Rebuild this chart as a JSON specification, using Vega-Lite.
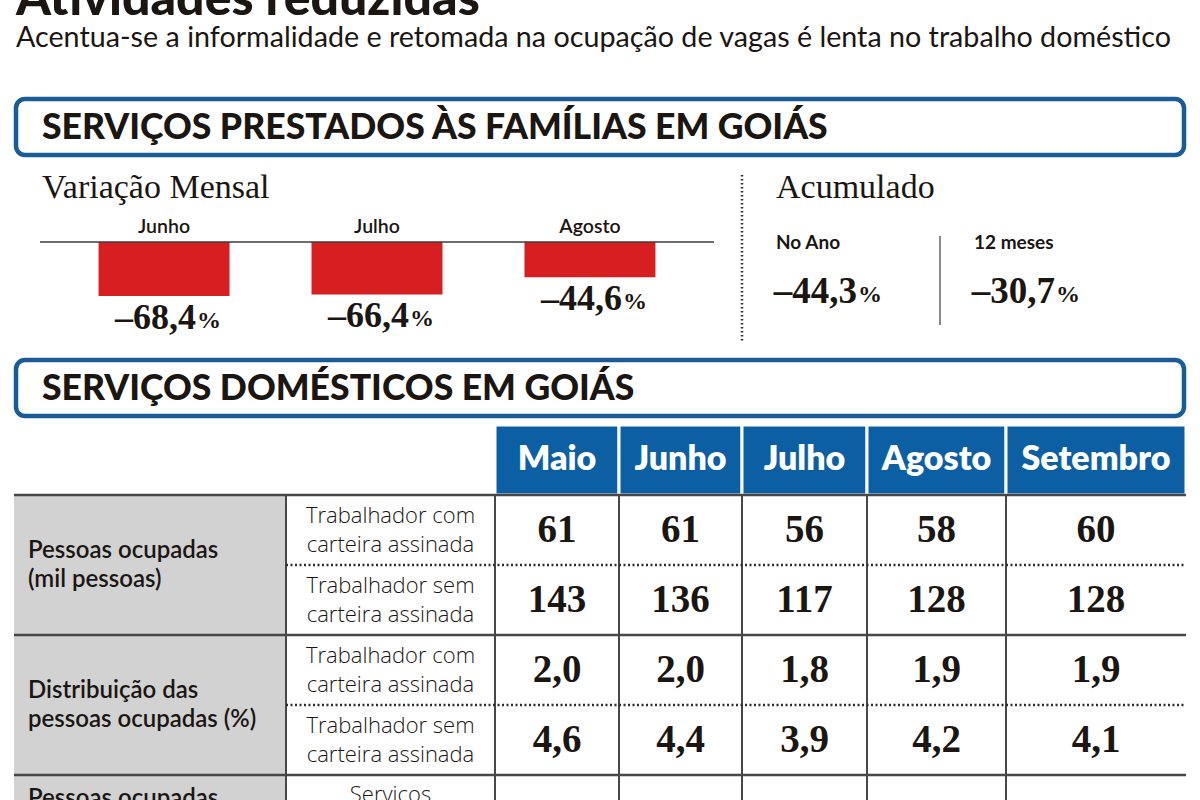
{
  "$schema": "https://vega.github.io/schema/vega-lite/v6.json",
  "width": 1200,
  "height": 800,
  "autosize": {"type": "none"},
  "padding": 0,
  "background": "#ffffff",
  "config": {
    "view": {"stroke": null},
    "locale": {"number": {"decimal": ",", "thousands": ".", "grouping": [3], "currency": ["R$", ""], "minus": "–"}},
    "text": {"color": "#1b1612"}
  },
  "datasets": {
    "cabecalho": [
      {"nivel": "titulo", "texto": "Atividades reduzidas"},
      {"nivel": "subtitulo", "texto": "Acentua-se a informalidade e retomada na ocupação de vagas é lenta no trabalho doméstico"}
    ],
    "secoes": [
      {"secao": "SERVIÇOS PRESTADOS ÀS FAMÍLIAS EM GOIÁS"},
      {"secao": "SERVIÇOS DOMÉSTICOS EM GOIÁS"}
    ],
    "paineis": [{"painel": "Variação Mensal"}, {"painel": "Acumulado"}],
    "variacao": [
      {"mes": "Junho", "variacao": -68.4},
      {"mes": "Julho", "variacao": -66.4},
      {"mes": "Agosto", "variacao": -44.6}
    ],
    "acumulado": [
      {"periodo": "No Ano", "valor": -44.3},
      {"periodo": "12 meses", "valor": -30.7}
    ],
    "meses": [{"mes": "Maio"}, {"mes": "Junho"}, {"mes": "Julho"}, {"mes": "Agosto"}, {"mes": "Setembro"}],
    "linhas": [
      {"linha": 1, "grupo": "Pessoas ocupadas\n(mil pessoas)", "categoria": "Trabalhador com\ncarteira assinada"},
      {"linha": 2, "grupo": "Pessoas ocupadas\n(mil pessoas)", "categoria": "Trabalhador sem\ncarteira assinada"},
      {"linha": 3, "grupo": "Distribuição das\npessoas ocupadas (%)", "categoria": "Trabalhador com\ncarteira assinada"},
      {"linha": 4, "grupo": "Distribuição das\npessoas ocupadas (%)", "categoria": "Trabalhador sem\ncarteira assinada"},
      {"linha": 5, "grupo": "Pessoas ocupadas", "categoria": "Serviços"}
    ],
    "valores": [
      {"linha": 1, "mes": "Maio", "valor": 61}, {"linha": 1, "mes": "Junho", "valor": 61}, {"linha": 1, "mes": "Julho", "valor": 56}, {"linha": 1, "mes": "Agosto", "valor": 58}, {"linha": 1, "mes": "Setembro", "valor": 60},
      {"linha": 2, "mes": "Maio", "valor": 143}, {"linha": 2, "mes": "Junho", "valor": 136}, {"linha": 2, "mes": "Julho", "valor": 117}, {"linha": 2, "mes": "Agosto", "valor": 128}, {"linha": 2, "mes": "Setembro", "valor": 128},
      {"linha": 3, "mes": "Maio", "valor": 2.0}, {"linha": 3, "mes": "Junho", "valor": 2.0}, {"linha": 3, "mes": "Julho", "valor": 1.8}, {"linha": 3, "mes": "Agosto", "valor": 1.9}, {"linha": 3, "mes": "Setembro", "valor": 1.9},
      {"linha": 4, "mes": "Maio", "valor": 4.6}, {"linha": 4, "mes": "Junho", "valor": 4.4}, {"linha": 4, "mes": "Julho", "valor": 3.9}, {"linha": 4, "mes": "Agosto", "valor": 4.2}, {"linha": 4, "mes": "Setembro", "valor": 4.1}
    ]
  },
  "resolve": {"scale": {"x": "independent", "y": "independent"}},
  "layer": [
    {
      "data": {"name": "cabecalho"},
      "encoding": {
        "x": {"field": "nivel", "type": "nominal", "scale": {"type": "point", "domain": ["titulo", "subtitulo"], "range": [16, 16], "padding": 0}, "axis": null},
        "y": {"field": "nivel", "type": "nominal", "scale": {"type": "point", "domain": ["titulo", "subtitulo"], "range": [15, 47], "padding": 0}, "axis": null},
        "text": {"field": "texto", "type": "nominal"}
      },
      "layer": [
        {"transform": [{"filter": "datum.nivel === 'titulo'"}], "mark": {"type": "text", "align": "left", "baseline": "alphabetic", "font": "Lato", "fontWeight": 900, "fontSize": 50}},
        {"transform": [{"filter": "datum.nivel === 'subtitulo'"}], "mark": {"type": "text", "align": "left", "baseline": "alphabetic", "font": "Lato", "fontSize": 28.7}}
      ]
    },
    {
      "data": {"name": "secoes"},
      "encoding": {
        "y": {"field": "secao", "type": "nominal", "sort": null, "scale": {"type": "band", "domain": ["SERVIÇOS PRESTADOS ÀS FAMÍLIAS EM GOIÁS", "SERVIÇOS DOMÉSTICOS EM GOIÁS"], "range": [99, 416], "paddingInner": 0.785, "paddingOuter": 0}, "axis": null}
      },
      "layer": [
        {
          "mark": {"type": "rect", "fill": "#ffffff", "stroke": "#1a5b98", "strokeWidth": 4.5, "cornerRadius": 9},
          "encoding": {"x": {"datum": "faixa", "type": "nominal", "scale": {"type": "band", "domain": ["faixa"], "range": [16, 1184], "padding": 0}, "axis": null}}
        },
        {
          "mark": {"type": "text", "align": "left", "baseline": "middle", "dx": 26, "dy": 1, "font": "Lato", "fontWeight": 900, "fontSize": 35.6},
          "encoding": {
            "x": {"datum": "faixa", "type": "nominal", "bandPosition": 0, "scale": {"type": "band", "domain": ["faixa"], "range": [16, 1184], "padding": 0}, "axis": null},
            "text": {"field": "secao", "type": "nominal"}
          }
        }
      ]
    },
    {
      "data": {"name": "variacao"},
      "resolve": {"scale": {"x": "independent"}},
      "layer": [
        {
          "encoding": {
            "x": {"field": "mes", "type": "nominal", "sort": ["Junho", "Julho", "Agosto"], "scale": {"type": "band", "domain": ["Junho", "Julho", "Agosto"], "range": [40, 714], "paddingInner": 0.385, "paddingOuter": 0.275}, "axis": null},
            "y": {"field": "variacao", "type": "quantitative", "scale": {"domain": [-100, 0], "range": [321, 242], "nice": false, "zero": false}, "axis": null}
          },
          "layer": [
            {"mark": {"type": "bar", "color": "#d71f22"}, "encoding": {"y2": {"datum": 0}}},
            {"mark": {"type": "text", "align": "right", "baseline": "middle", "dx": 32, "dy": 22, "font": "Liberation Serif", "fontWeight": "bold", "fontSize": 36}, "encoding": {"text": {"field": "variacao", "type": "quantitative", "format": ".1f"}}},
            {"mark": {"type": "text", "align": "left", "baseline": "middle", "dx": 33, "dy": 25, "font": "Liberation Serif", "fontWeight": "bold", "fontSize": 24, "text": "%"}},
            {
              "mark": {"type": "text", "align": "center", "baseline": "alphabetic", "dy": -9, "font": "Lato", "fontWeight": 600, "fontSize": 19.5},
              "encoding": {
                "y": {"datum": 0, "type": "quantitative", "scale": {"domain": [-100, 0], "range": [321, 242], "nice": false, "zero": false}, "axis": null},
                "text": {"field": "mes", "type": "nominal"}
              }
            }
          ]
        },
        {
          "transform": [{"aggregate": [{"op": "count", "as": "n"}]}],
          "mark": {"type": "rule", "stroke": "#3d3d3d", "strokeWidth": 1.3},
          "encoding": {
            "x": {"datum": "inicio", "type": "nominal", "scale": {"type": "point", "domain": ["inicio", "fim"], "range": [40, 714], "padding": 0}, "axis": null},
            "x2": {"datum": "fim"},
            "y": {"datum": 0, "type": "quantitative", "scale": {"domain": [-100, 0], "range": [321, 242], "nice": false, "zero": false}, "axis": null}
          }
        }
      ]
    },
    {
      "data": {"name": "acumulado"},
      "encoding": {
        "x": {"field": "periodo", "type": "nominal", "bandPosition": 0, "sort": null, "scale": {"type": "band", "domain": ["No Ano", "12 meses"], "range": [742, 1138], "padding": 0}, "axis": null}
      },
      "layer": [
        {
          "mark": {"type": "text", "align": "left", "baseline": "middle", "dx": 34, "font": "Lato", "fontWeight": 700, "fontSize": 19},
          "encoding": {
            "y": {"datum": 0.41, "type": "quantitative", "scale": {"domain": [0, 1], "range": [175, 342], "nice": false, "zero": false}, "axis": null},
            "text": {"field": "periodo", "type": "nominal"}
          }
        },
        {
          "mark": {"type": "text", "align": "right", "baseline": "middle", "dx": 115, "font": "Liberation Serif", "fontWeight": "bold", "fontSize": 37},
          "encoding": {
            "y": {"datum": 0.70, "type": "quantitative", "scale": {"domain": [0, 1], "range": [175, 342], "nice": false, "zero": false}, "axis": null},
            "text": {"field": "valor", "type": "quantitative", "format": ".1f"}
          }
        },
        {
          "mark": {"type": "text", "align": "left", "baseline": "middle", "dx": 116, "dy": 3, "font": "Liberation Serif", "fontWeight": "bold", "fontSize": 24, "text": "%"},
          "encoding": {
            "y": {"datum": 0.70, "type": "quantitative", "scale": {"domain": [0, 1], "range": [175, 342], "nice": false, "zero": false}, "axis": null}
          }
        },
        {
          "transform": [{"filter": "datum.periodo === '12 meses'"}],
          "mark": {"type": "rule", "stroke": "#3d3d3d", "strokeWidth": 1.2},
          "encoding": {
            "y": {"datum": 0.365, "type": "quantitative", "scale": {"domain": [0, 1], "range": [175, 342], "nice": false, "zero": false}, "axis": null},
            "y2": {"datum": 0.898}
          }
        }
      ]
    },
    {
      "data": {"name": "paineis"},
      "encoding": {
        "x": {"field": "painel", "type": "nominal", "bandPosition": 0, "sort": null, "scale": {"type": "band", "domain": ["Variação Mensal", "Acumulado"], "range": [8, 1476], "padding": 0}, "axis": null},
        "y": {"datum": 0.08, "type": "quantitative", "scale": {"domain": [0, 1], "range": [175, 342], "nice": false, "zero": false}, "axis": null}
      },
      "layer": [
        {"mark": {"type": "text", "align": "left", "baseline": "middle", "dx": 34, "font": "Liberation Serif", "fontSize": 34}, "encoding": {"text": {"field": "painel", "type": "nominal"}}},
        {
          "transform": [{"filter": "datum.painel === 'Acumulado'"}],
          "mark": {"type": "rule", "stroke": "#2e2e2e", "strokeWidth": 2.5, "strokeDash": [1.5, 2.5]},
          "encoding": {
            "y": {"datum": 0, "type": "quantitative", "scale": {"domain": [0, 1], "range": [175, 342], "nice": false, "zero": false}, "axis": null},
            "y2": {"datum": 1}
          }
        }
      ]
    },
    {
      "resolve": {"scale": {"x": "independent"}},
      "layer": [
        {
          "data": {"name": "linhas"},
          "encoding": {
            "x": {"datum": "grupo", "type": "nominal", "bandPosition": 0, "scale": {"type": "band", "domain": ["grupo"], "range": [14, 286], "padding": 0}, "axis": null}
          },
          "layer": [
            {
              "mark": {"type": "rect", "fill": "#d2d2d2"},
              "encoding": {
                "x": {"datum": "grupo", "type": "nominal", "scale": {"type": "band", "domain": ["grupo"], "range": [14, 286], "padding": 0}, "axis": null},
                "y": {"field": "linha", "type": "ordinal", "scale": {"type": "band", "domain": [0, 1, 2, 3, 4, 5, 6], "range": [425, 915], "padding": 0}, "axis": null}
              }
            },
            {
              "transform": [{"filter": "datum.linha === 2 || datum.linha === 4"}],
              "mark": {"type": "text", "align": "left", "baseline": "middle", "dx": 14, "dy": -14.5, "font": "Lato", "fontWeight": 600, "fontSize": 24, "lineHeight": 29, "lineBreak": "\n"},
              "encoding": {
                "y": {"field": "linha", "type": "ordinal", "bandPosition": 0, "scale": {"type": "band", "domain": [0, 1, 2, 3, 4, 5, 6], "range": [425, 915], "padding": 0}, "axis": null},
                "text": {"field": "grupo", "type": "nominal"}
              }
            },
            {
              "transform": [{"filter": "datum.linha === 5"}],
              "mark": {"type": "text", "align": "left", "baseline": "top", "dx": 14, "font": "Lato", "fontWeight": 600, "fontSize": 24, "lineHeight": 29, "lineBreak": "\n"},
              "encoding": {
                "y": {"field": "linha", "type": "ordinal", "bandPosition": 0.17, "scale": {"type": "band", "domain": [0, 1, 2, 3, 4, 5, 6], "range": [425, 915], "padding": 0}, "axis": null},
                "text": {"field": "grupo", "type": "nominal"}
              }
            }
          ]
        },
        {
          "data": {"name": "linhas"},
          "encoding": {
            "x": {"datum": "categoria", "type": "nominal", "scale": {"type": "band", "domain": ["categoria"], "range": [286, 495], "padding": 0}, "axis": null}
          },
          "layer": [
            {
              "transform": [{"filter": "datum.linha <= 4"}],
              "mark": {"type": "text", "align": "center", "baseline": "middle", "dy": -14.5, "font": "Open Sans", "fontWeight": 300, "fontSize": 22, "lineHeight": 29, "lineBreak": "\n"},
              "encoding": {
                "y": {"field": "linha", "type": "ordinal", "scale": {"type": "band", "domain": [0, 1, 2, 3, 4, 5, 6], "range": [425, 915], "padding": 0}, "axis": null},
                "text": {"field": "categoria", "type": "nominal"}
              }
            },
            {
              "transform": [{"filter": "datum.linha === 5"}],
              "mark": {"type": "text", "align": "center", "baseline": "top", "font": "Open Sans", "fontWeight": 300, "fontSize": 22, "lineHeight": 29, "lineBreak": "\n"},
              "encoding": {
                "y": {"field": "linha", "type": "ordinal", "bandPosition": 0.14, "scale": {"type": "band", "domain": [0, 1, 2, 3, 4, 5, 6], "range": [425, 915], "padding": 0}, "axis": null},
                "text": {"field": "categoria", "type": "nominal"}
              }
            },
            {
              "transform": [{"filter": "datum.linha === 1"}],
              "mark": {"type": "rule", "stroke": "#474747", "strokeWidth": 2},
              "encoding": {
                "x": {"datum": "categoria", "type": "nominal", "bandPosition": 0, "scale": {"type": "band", "domain": ["categoria"], "range": [286, 495], "padding": 0}, "axis": null},
                "y": {"datum": 1, "type": "ordinal", "bandPosition": 0, "scale": {"type": "band", "domain": [0, 1, 2, 3, 4, 5, 6], "range": [425, 915], "padding": 0}, "axis": null},
                "y2": {"datum": 6}
              }
            }
          ]
        },
        {
          "encoding": {"x": {"field": "mes", "type": "nominal", "scale": {"type": "band", "domain": ["Maio"], "range": [495, 619], "padding": 0}, "axis": null}},
          "layer": [
            {"data": {"name": "meses"}, "transform": [{"filter": "datum.mes === 'Maio'"}], "mark": {"type": "rect", "fill": "#0d5fa4", "stroke": "#ffffff", "strokeWidth": 3}, "encoding": {"y": {"datum": 0, "type": "ordinal", "scale": {"type": "band", "domain": [0, 1, 2, 3, 4, 5, 6], "range": [425, 915], "padding": 0}, "axis": null}}},
            {"data": {"name": "meses"}, "transform": [{"filter": "datum.mes === 'Maio'"}], "mark": {"type": "text", "color": "#ffffff", "baseline": "middle", "font": "Lato", "fontWeight": 800, "fontSize": 34}, "encoding": {"y": {"datum": 0, "type": "ordinal", "scale": {"type": "band", "domain": [0, 1, 2, 3, 4, 5, 6], "range": [425, 915], "padding": 0}, "axis": null}, "text": {"field": "mes", "type": "nominal"}}},
            {"data": {"name": "valores"}, "transform": [{"filter": "datum.mes === 'Maio' && datum.linha <= 2"}], "mark": {"type": "text", "baseline": "middle", "font": "Liberation Serif", "fontWeight": "bold", "fontSize": 39}, "encoding": {"y": {"field": "linha", "type": "ordinal", "scale": {"type": "band", "domain": [0, 1, 2, 3, 4, 5, 6], "range": [425, 915], "padding": 0}, "axis": null}, "text": {"field": "valor", "type": "quantitative", "format": "d"}}},
            {"data": {"name": "valores"}, "transform": [{"filter": "datum.mes === 'Maio' && datum.linha >= 3"}], "mark": {"type": "text", "baseline": "middle", "font": "Liberation Serif", "fontWeight": "bold", "fontSize": 39}, "encoding": {"y": {"field": "linha", "type": "ordinal", "scale": {"type": "band", "domain": [0, 1, 2, 3, 4, 5, 6], "range": [425, 915], "padding": 0}, "axis": null}, "text": {"field": "valor", "type": "quantitative", "format": ".1f"}}},
            {"data": {"name": "meses"}, "transform": [{"filter": "datum.mes === 'Maio'"}], "mark": {"type": "rule", "stroke": "#474747", "strokeWidth": 2}, "encoding": {"x": {"field": "mes", "type": "nominal", "bandPosition": 0, "scale": {"type": "band", "domain": ["Maio"], "range": [495, 619], "padding": 0}, "axis": null}, "y": {"datum": 1, "type": "ordinal", "bandPosition": 0, "scale": {"type": "band", "domain": [0, 1, 2, 3, 4, 5, 6], "range": [425, 915], "padding": 0}, "axis": null}, "y2": {"datum": 6}}}
          ]
        },
        {
          "encoding": {"x": {"field": "mes", "type": "nominal", "scale": {"type": "band", "domain": ["Junho"], "range": [619, 742], "padding": 0}, "axis": null}},
          "layer": [
            {"data": {"name": "meses"}, "transform": [{"filter": "datum.mes === 'Junho'"}], "mark": {"type": "rect", "fill": "#0d5fa4", "stroke": "#ffffff", "strokeWidth": 3}, "encoding": {"y": {"datum": 0, "type": "ordinal", "scale": {"type": "band", "domain": [0, 1, 2, 3, 4, 5, 6], "range": [425, 915], "padding": 0}, "axis": null}}},
            {"data": {"name": "meses"}, "transform": [{"filter": "datum.mes === 'Junho'"}], "mark": {"type": "text", "color": "#ffffff", "baseline": "middle", "font": "Lato", "fontWeight": 800, "fontSize": 34}, "encoding": {"y": {"datum": 0, "type": "ordinal", "scale": {"type": "band", "domain": [0, 1, 2, 3, 4, 5, 6], "range": [425, 915], "padding": 0}, "axis": null}, "text": {"field": "mes", "type": "nominal"}}},
            {"data": {"name": "valores"}, "transform": [{"filter": "datum.mes === 'Junho' && datum.linha <= 2"}], "mark": {"type": "text", "baseline": "middle", "font": "Liberation Serif", "fontWeight": "bold", "fontSize": 39}, "encoding": {"y": {"field": "linha", "type": "ordinal", "scale": {"type": "band", "domain": [0, 1, 2, 3, 4, 5, 6], "range": [425, 915], "padding": 0}, "axis": null}, "text": {"field": "valor", "type": "quantitative", "format": "d"}}},
            {"data": {"name": "valores"}, "transform": [{"filter": "datum.mes === 'Junho' && datum.linha >= 3"}], "mark": {"type": "text", "baseline": "middle", "font": "Liberation Serif", "fontWeight": "bold", "fontSize": 39}, "encoding": {"y": {"field": "linha", "type": "ordinal", "scale": {"type": "band", "domain": [0, 1, 2, 3, 4, 5, 6], "range": [425, 915], "padding": 0}, "axis": null}, "text": {"field": "valor", "type": "quantitative", "format": ".1f"}}},
            {"data": {"name": "meses"}, "transform": [{"filter": "datum.mes === 'Junho'"}], "mark": {"type": "rule", "stroke": "#474747", "strokeWidth": 2}, "encoding": {"x": {"field": "mes", "type": "nominal", "bandPosition": 0, "scale": {"type": "band", "domain": ["Junho"], "range": [619, 742], "padding": 0}, "axis": null}, "y": {"datum": 1, "type": "ordinal", "bandPosition": 0, "scale": {"type": "band", "domain": [0, 1, 2, 3, 4, 5, 6], "range": [425, 915], "padding": 0}, "axis": null}, "y2": {"datum": 6}}}
          ]
        },
        {
          "encoding": {"x": {"field": "mes", "type": "nominal", "scale": {"type": "band", "domain": ["Julho"], "range": [742, 867], "padding": 0}, "axis": null}},
          "layer": [
            {"data": {"name": "meses"}, "transform": [{"filter": "datum.mes === 'Julho'"}], "mark": {"type": "rect", "fill": "#0d5fa4", "stroke": "#ffffff", "strokeWidth": 3}, "encoding": {"y": {"datum": 0, "type": "ordinal", "scale": {"type": "band", "domain": [0, 1, 2, 3, 4, 5, 6], "range": [425, 915], "padding": 0}, "axis": null}}},
            {"data": {"name": "meses"}, "transform": [{"filter": "datum.mes === 'Julho'"}], "mark": {"type": "text", "color": "#ffffff", "baseline": "middle", "font": "Lato", "fontWeight": 800, "fontSize": 34}, "encoding": {"y": {"datum": 0, "type": "ordinal", "scale": {"type": "band", "domain": [0, 1, 2, 3, 4, 5, 6], "range": [425, 915], "padding": 0}, "axis": null}, "text": {"field": "mes", "type": "nominal"}}},
            {"data": {"name": "valores"}, "transform": [{"filter": "datum.mes === 'Julho' && datum.linha <= 2"}], "mark": {"type": "text", "baseline": "middle", "font": "Liberation Serif", "fontWeight": "bold", "fontSize": 39}, "encoding": {"y": {"field": "linha", "type": "ordinal", "scale": {"type": "band", "domain": [0, 1, 2, 3, 4, 5, 6], "range": [425, 915], "padding": 0}, "axis": null}, "text": {"field": "valor", "type": "quantitative", "format": "d"}}},
            {"data": {"name": "valores"}, "transform": [{"filter": "datum.mes === 'Julho' && datum.linha >= 3"}], "mark": {"type": "text", "baseline": "middle", "font": "Liberation Serif", "fontWeight": "bold", "fontSize": 39}, "encoding": {"y": {"field": "linha", "type": "ordinal", "scale": {"type": "band", "domain": [0, 1, 2, 3, 4, 5, 6], "range": [425, 915], "padding": 0}, "axis": null}, "text": {"field": "valor", "type": "quantitative", "format": ".1f"}}},
            {"data": {"name": "meses"}, "transform": [{"filter": "datum.mes === 'Julho'"}], "mark": {"type": "rule", "stroke": "#474747", "strokeWidth": 2}, "encoding": {"x": {"field": "mes", "type": "nominal", "bandPosition": 0, "scale": {"type": "band", "domain": ["Julho"], "range": [742, 867], "padding": 0}, "axis": null}, "y": {"datum": 1, "type": "ordinal", "bandPosition": 0, "scale": {"type": "band", "domain": [0, 1, 2, 3, 4, 5, 6], "range": [425, 915], "padding": 0}, "axis": null}, "y2": {"datum": 6}}}
          ]
        },
        {
          "encoding": {"x": {"field": "mes", "type": "nominal", "scale": {"type": "band", "domain": ["Agosto"], "range": [867, 1006], "padding": 0}, "axis": null}},
          "layer": [
            {"data": {"name": "meses"}, "transform": [{"filter": "datum.mes === 'Agosto'"}], "mark": {"type": "rect", "fill": "#0d5fa4", "stroke": "#ffffff", "strokeWidth": 3}, "encoding": {"y": {"datum": 0, "type": "ordinal", "scale": {"type": "band", "domain": [0, 1, 2, 3, 4, 5, 6], "range": [425, 915], "padding": 0}, "axis": null}}},
            {"data": {"name": "meses"}, "transform": [{"filter": "datum.mes === 'Agosto'"}], "mark": {"type": "text", "color": "#ffffff", "baseline": "middle", "font": "Lato", "fontWeight": 800, "fontSize": 34}, "encoding": {"y": {"datum": 0, "type": "ordinal", "scale": {"type": "band", "domain": [0, 1, 2, 3, 4, 5, 6], "range": [425, 915], "padding": 0}, "axis": null}, "text": {"field": "mes", "type": "nominal"}}},
            {"data": {"name": "valores"}, "transform": [{"filter": "datum.mes === 'Agosto' && datum.linha <= 2"}], "mark": {"type": "text", "baseline": "middle", "font": "Liberation Serif", "fontWeight": "bold", "fontSize": 39}, "encoding": {"y": {"field": "linha", "type": "ordinal", "scale": {"type": "band", "domain": [0, 1, 2, 3, 4, 5, 6], "range": [425, 915], "padding": 0}, "axis": null}, "text": {"field": "valor", "type": "quantitative", "format": "d"}}},
            {"data": {"name": "valores"}, "transform": [{"filter": "datum.mes === 'Agosto' && datum.linha >= 3"}], "mark": {"type": "text", "baseline": "middle", "font": "Liberation Serif", "fontWeight": "bold", "fontSize": 39}, "encoding": {"y": {"field": "linha", "type": "ordinal", "scale": {"type": "band", "domain": [0, 1, 2, 3, 4, 5, 6], "range": [425, 915], "padding": 0}, "axis": null}, "text": {"field": "valor", "type": "quantitative", "format": ".1f"}}},
            {"data": {"name": "meses"}, "transform": [{"filter": "datum.mes === 'Agosto'"}], "mark": {"type": "rule", "stroke": "#474747", "strokeWidth": 2}, "encoding": {"x": {"field": "mes", "type": "nominal", "bandPosition": 0, "scale": {"type": "band", "domain": ["Agosto"], "range": [867, 1006], "padding": 0}, "axis": null}, "y": {"datum": 1, "type": "ordinal", "bandPosition": 0, "scale": {"type": "band", "domain": [0, 1, 2, 3, 4, 5, 6], "range": [425, 915], "padding": 0}, "axis": null}, "y2": {"datum": 6}}}
          ]
        },
        {
          "encoding": {"x": {"field": "mes", "type": "nominal", "scale": {"type": "band", "domain": ["Setembro"], "range": [1006, 1186], "padding": 0}, "axis": null}},
          "layer": [
            {"data": {"name": "meses"}, "transform": [{"filter": "datum.mes === 'Setembro'"}], "mark": {"type": "rect", "fill": "#0d5fa4", "stroke": "#ffffff", "strokeWidth": 3}, "encoding": {"y": {"datum": 0, "type": "ordinal", "scale": {"type": "band", "domain": [0, 1, 2, 3, 4, 5, 6], "range": [425, 915], "padding": 0}, "axis": null}}},
            {"data": {"name": "meses"}, "transform": [{"filter": "datum.mes === 'Setembro'"}], "mark": {"type": "text", "color": "#ffffff", "baseline": "middle", "font": "Lato", "fontWeight": 800, "fontSize": 34}, "encoding": {"y": {"datum": 0, "type": "ordinal", "scale": {"type": "band", "domain": [0, 1, 2, 3, 4, 5, 6], "range": [425, 915], "padding": 0}, "axis": null}, "text": {"field": "mes", "type": "nominal"}}},
            {"data": {"name": "valores"}, "transform": [{"filter": "datum.mes === 'Setembro' && datum.linha <= 2"}], "mark": {"type": "text", "baseline": "middle", "font": "Liberation Serif", "fontWeight": "bold", "fontSize": 39}, "encoding": {"y": {"field": "linha", "type": "ordinal", "scale": {"type": "band", "domain": [0, 1, 2, 3, 4, 5, 6], "range": [425, 915], "padding": 0}, "axis": null}, "text": {"field": "valor", "type": "quantitative", "format": "d"}}},
            {"data": {"name": "valores"}, "transform": [{"filter": "datum.mes === 'Setembro' && datum.linha >= 3"}], "mark": {"type": "text", "baseline": "middle", "font": "Liberation Serif", "fontWeight": "bold", "fontSize": 39}, "encoding": {"y": {"field": "linha", "type": "ordinal", "scale": {"type": "band", "domain": [0, 1, 2, 3, 4, 5, 6], "range": [425, 915], "padding": 0}, "axis": null}, "text": {"field": "valor", "type": "quantitative", "format": ".1f"}}},
            {"data": {"name": "meses"}, "transform": [{"filter": "datum.mes === 'Setembro'"}], "mark": {"type": "rule", "stroke": "#474747", "strokeWidth": 2}, "encoding": {"x": {"field": "mes", "type": "nominal", "bandPosition": 0, "scale": {"type": "band", "domain": ["Setembro"], "range": [1006, 1186], "padding": 0}, "axis": null}, "y": {"datum": 1, "type": "ordinal", "bandPosition": 0, "scale": {"type": "band", "domain": [0, 1, 2, 3, 4, 5, 6], "range": [425, 915], "padding": 0}, "axis": null}, "y2": {"datum": 6}}}
          ]
        },
        {
          "data": {"name": "linhas"},
          "transform": [{"filter": "datum.linha === 1 || datum.linha === 3 || datum.linha === 5"}],
          "mark": {"type": "rule", "stroke": "#474747", "strokeWidth": 2.5},
          "encoding": {
            "x": {"datum": "inicio", "type": "nominal", "scale": {"type": "point", "domain": ["inicio", "fim"], "range": [14, 1186], "padding": 0}, "axis": null},
            "x2": {"datum": "fim"},
            "y": {"field": "linha", "type": "ordinal", "bandPosition": 0, "scale": {"type": "band", "domain": [0, 1, 2, 3, 4, 5, 6], "range": [425, 915], "padding": 0}, "axis": null}
          }
        },
        {
          "data": {"name": "linhas"},
          "transform": [{"filter": "datum.linha === 2 || datum.linha === 4"}],
          "mark": {"type": "rule", "stroke": "#2e2e2e", "strokeWidth": 2.5, "strokeDash": [2, 2.5]},
          "encoding": {
            "x": {"datum": "inicio", "type": "nominal", "scale": {"type": "point", "domain": ["inicio", "fim"], "range": [286, 1186], "padding": 0}, "axis": null},
            "x2": {"datum": "fim"},
            "y": {"field": "linha", "type": "ordinal", "bandPosition": 0, "scale": {"type": "band", "domain": [0, 1, 2, 3, 4, 5, 6], "range": [425, 915], "padding": 0}, "axis": null}
          }
        }
      ]
    }
  ]
}
